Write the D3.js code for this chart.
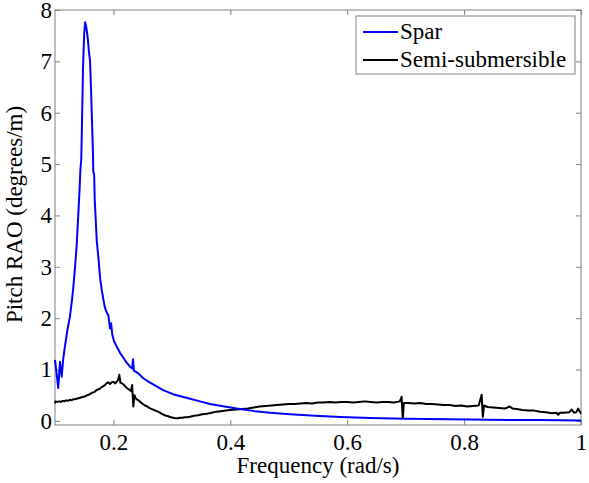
<html><head><script src="https://d3js.org/d3.v7.min.js"></script></head>
<body style="margin:0">
<svg width="589" height="483"></svg>
<script>
// values
const sparFreq = [0.100, 0.1025, 0.1055, 0.1085, 0.1115, 0.114, 0.117, 0.121, 0.1255, 0.129, 0.1315, 0.134, 0.137, 0.140, 0.142, 0.1435, 0.145, 0.1465, 0.148, 0.150, 0.1515, 0.153, 0.155, 0.1565, 0.158, 0.160, 0.1615, 0.163, 0.165, 0.1655, 0.167, 0.168, 0.1715, 0.1745, 0.177, 0.180, 0.183, 0.1855, 0.189, 0.1915, 0.194, 0.196, 0.198, 0.201, 0.2055, 0.211, 0.217, 0.2215, 0.228, 0.232, 0.2335, 0.235, 0.242, 0.251, 0.262, 0.274, 0.285, 0.302, 0.318, 0.331, 0.345, 0.365, 0.390, 0.416, 0.442, 0.468, 0.502, 0.545, 0.588, 0.639, 0.700, 0.776, 0.844, 0.930, 1.000];
const sparRAO = [1.19, 0.95, 0.64, 1.15, 0.86, 1.20, 1.45, 1.75, 2.03, 2.35, 2.62, 2.95, 3.40, 4.05, 4.50, 4.90, 5.10, 6.00, 6.90, 7.55, 7.76, 7.70, 7.55, 7.40, 7.20, 7.00, 6.50, 5.95, 5.20, 4.85, 4.80, 4.30, 3.50, 3.15, 2.80, 2.55, 2.35, 2.20, 2.10, 2.05, 1.80, 1.90, 1.68, 1.55, 1.45, 1.33, 1.23, 1.15, 1.06, 1.02, 1.20, 0.98, 0.93, 0.83, 0.75, 0.67, 0.60, 0.52, 0.47, 0.43, 0.39, 0.33, 0.28, 0.23, 0.19, 0.16, 0.13, 0.10, 0.075, 0.055, 0.04, 0.03, 0.02, 0.015, 0.01];

const semiFreq = [0.100, 0.101, 0.104, 0.107, 0.110, 0.113, 0.116, 0.119, 0.122, 0.125, 0.128, 0.131, 0.134, 0.137, 0.140, 0.143, 0.146, 0.149, 0.152, 0.155, 0.158, 0.161, 0.164, 0.167, 0.170, 0.173, 0.176, 0.179, 0.182, 0.185, 0.188, 0.191, 0.194, 0.197, 0.200, 0.203, 0.206, 0.208, 0.210, 0.212, 0.215, 0.218, 0.221, 0.224, 0.227, 0.230, 0.232, 0.234, 0.236, 0.238, 0.240, 0.243, 0.246, 0.250, 0.254, 0.258, 0.262, 0.266, 0.270, 0.274, 0.278, 0.282, 0.286, 0.290, 0.294, 0.298, 0.302, 0.306, 0.310, 0.314, 0.318, 0.322, 0.326, 0.331, 0.338, 0.345, 0.352, 0.360, 0.368, 0.376, 0.384, 0.392, 0.400, 0.410, 0.420, 0.430, 0.440, 0.450, 0.460, 0.470, 0.480, 0.490, 0.500, 0.510, 0.520, 0.530, 0.540, 0.550, 0.560, 0.570, 0.580, 0.590, 0.600, 0.610, 0.620, 0.630, 0.640, 0.650, 0.660, 0.670, 0.680, 0.690, 0.693, 0.695, 0.697, 0.705, 0.715, 0.725, 0.735, 0.745, 0.755, 0.765, 0.775, 0.785, 0.795, 0.805, 0.815, 0.825, 0.830, 0.832, 0.834, 0.840, 0.850, 0.860, 0.870, 0.878, 0.883, 0.890, 0.900, 0.910, 0.920, 0.930, 0.940, 0.950, 0.958, 0.961, 0.964, 0.970, 0.980, 0.984, 0.988, 0.992, 0.995, 1.000];
const semiRAO = [0.34, 0.38, 0.37, 0.38, 0.37, 0.39, 0.38, 0.40, 0.39, 0.41, 0.40, 0.42, 0.42, 0.43, 0.44, 0.45, 0.46, 0.47, 0.48, 0.50, 0.51, 0.53, 0.55, 0.56, 0.59, 0.61, 0.62, 0.65, 0.67, 0.69, 0.73, 0.75, 0.72, 0.75, 0.76, 0.73, 0.77, 0.80, 0.90, 0.74, 0.73, 0.70, 0.66, 0.63, 0.61, 0.58, 0.70, 0.28, 0.50, 0.44, 0.42, 0.40, 0.37, 0.33, 0.30, 0.28, 0.25, 0.23, 0.21, 0.19, 0.17, 0.14, 0.12, 0.10, 0.09, 0.07, 0.06, 0.05, 0.05, 0.06, 0.06, 0.07, 0.07, 0.08, 0.10, 0.11, 0.13, 0.14, 0.16, 0.18, 0.19, 0.20, 0.21, 0.22, 0.23, 0.24, 0.26, 0.28, 0.29, 0.30, 0.31, 0.32, 0.33, 0.33, 0.34, 0.35, 0.34, 0.36, 0.36, 0.37, 0.36, 0.37, 0.37, 0.36, 0.37, 0.38, 0.37, 0.36, 0.37, 0.37, 0.36, 0.38, 0.47, 0.05, 0.35, 0.35, 0.34, 0.35, 0.33, 0.33, 0.32, 0.31, 0.31, 0.29, 0.30, 0.28, 0.29, 0.30, 0.51, 0.08, 0.30, 0.27, 0.26, 0.25, 0.24, 0.28, 0.24, 0.23, 0.21, 0.20, 0.20, 0.18, 0.17, 0.15, 0.16, 0.12, 0.16, 0.16, 0.17, 0.22, 0.16, 0.17, 0.24, 0.14];

const xTicks = [0.2, 0.4, 0.6, 0.8, 1];
const yTicks = [0, 1, 2, 3, 4, 5, 6, 7, 8];
const seriesNames = ['Spar', 'Semi-submersible'];
const seriesColors = ['#0000ff', '#000000'];

const plotLeft = 55, plotRight = 581, plotTop = 10, plotBottom = 425;
const axisGrey = '#808080';
const fontSize = 23;
const fontName = '"Liberation Serif"';

const svg = d3.select('svg');

const x = d3.scaleLinear().domain([0.1, 1]).range([plotLeft, plotRight]);
const y = d3.scaleLinear().domain([-0.08, 8]).range([plotBottom, plotTop]);

// axes box
svg.append('rect')
	.attr('x', plotLeft).attr('y', plotTop)
	.attr('width', plotRight - plotLeft).attr('height', plotBottom - plotTop)
	.attr('fill', 'none').attr('stroke', axisGrey).attr('stroke-width', 1);

function styleAxis(g) {
	g.select('.domain').remove();
	g.selectAll('.tick line').attr('stroke', axisGrey);
	g.selectAll('.tick text')
		.attr('fill', '#000')
		.attr('font-family', fontName)
		.attr('font-size', fontSize);
}

svg.append('g')
	.attr('transform', `translate(0,${plotBottom})`)
	.call(d3.axisBottom(x).tickValues(xTicks).tickSize(-5).tickPadding(9).tickFormat(d3.format('')))
	.call(styleAxis);
svg.append('g')
	.attr('transform', `translate(0,${plotTop})`)
	.call(d3.axisTop(x).tickValues(xTicks).tickSize(-5).tickFormat(''))
	.call(styleAxis);
svg.append('g')
	.attr('transform', `translate(${plotLeft},0)`)
	.call(d3.axisLeft(y).tickValues(yTicks).tickSize(-5).tickPadding(3))
	.call(styleAxis);
svg.append('g')
	.attr('transform', `translate(${plotRight},0)`)
	.call(d3.axisRight(y).tickValues(yTicks).tickSize(-5).tickFormat(''))
	.call(styleAxis);

// curves, semi-sub first so the spar sits on top
const line = d3.line().x(d => x(d[0])).y(d => y(d[1]));
const series = [
	{ pts: d3.zip(semiFreq, semiRAO), color: seriesColors[1] },
	{ pts: d3.zip(sparFreq, sparRAO), color: seriesColors[0] }
];

svg.append('g')
	.selectAll('path')
	.data(series)
	.enter()
	.append('path')
	.attr('d', d => line(d.pts))
	.attr('fill', 'none')
	.attr('stroke', d => d.color)
	.attr('stroke-width', 2)
	.attr('stroke-linejoin', 'round');

// axis labels
svg.append('text')
	.attr('x', (plotLeft + plotRight) / 2).attr('y', 473)
	.attr('text-anchor', 'middle')
	.attr('font-family', fontName).attr('font-size', fontSize)
	.text('Frequency (rad/s)');

svg.append('text')
	.attr('transform', `translate(22,${(plotTop + plotBottom) / 2 - 3}) rotate(-90)`)
	.attr('text-anchor', 'middle')
	.attr('font-family', fontName).attr('font-size', fontSize)
	.text('Pitch RAO (degrees/m)');

// legend
const legend = svg.append('g');
legend.append('rect')
	.attr('x', 356).attr('y', 16)
	.attr('width', 219).attr('height', 58)
	.attr('fill', '#fff').attr('stroke', axisGrey);

const rows = legend.selectAll('g.row')
	.data(seriesNames)
	.enter()
	.append('g')
	.attr('class', 'row')
	.attr('transform', (d, i) => `translate(0,${32 + i * 28})`);
rows.append('line')
	.attr('x1', 363).attr('x2', 398)
	.attr('stroke', (d, i) => seriesColors[i])
	.attr('stroke-width', 2);
rows.append('text')
	.attr('x', 400).attr('y', 7)
	.attr('font-family', fontName).attr('font-size', fontSize)
	.text(d => d);
</script>
</body></html>
